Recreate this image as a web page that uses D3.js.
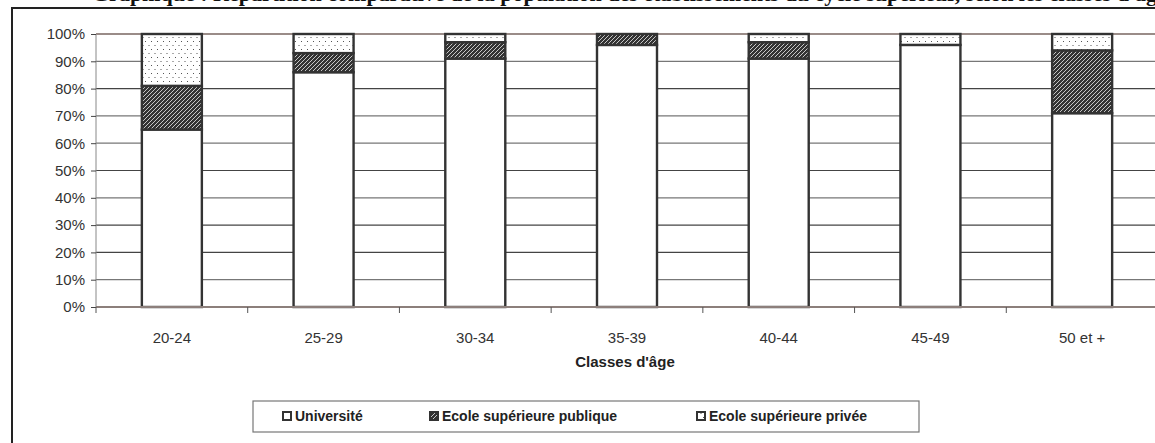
<!DOCTYPE html>
<html>
<head>
<meta charset="utf-8">
<script src="https://cdn.jsdelivr.net/npm/d3@7"></script>
<style>
  html, body { margin: 0; padding: 0; background: #fff; }
  svg { display: block; }
</style>
</head>
<body>
<svg id="chart" width="1155" height="443"></svg>
<script>
// Age classes and the share (%) of each type of institution
const categories = ["20-24", "25-29", "30-34", "35-39", "40-44", "45-49", "50 et +"];
const universite = [65, 86, 91, 96, 91, 96, 71];
const ecolePublique = [16, 7, 6, 4, 6, 0, 23];
const ecolePrivee = [19, 7, 3, 0, 3, 4, 6];
const seriesNames = ["Université", "Ecole supérieure publique", "Ecole supérieure privée"];
const yTicks = [0, 10, 20, 30, 40, 50, 60, 70, 80, 90, 100];
const titleText = "Graphique : Répartition comparative de la population des établissements du cycle supérieur, selon les classes d'âge";
const xTitle = "Classes d'âge";

const svg = d3.select("#chart");
const W = 1155, H = 443;
const plot = { left: 96, right: 1158, top: 34, bottom: 307 };
const barW = 60;
const font = "Liberation Sans, Arial, sans-serif";

// fill patterns
const defs = svg.append("defs");
const hatch = defs.append("pattern").attr("id", "hatch")
  .attr("patternUnits", "userSpaceOnUse").attr("width", 4).attr("height", 4);
hatch.append("rect").attr("width", 4).attr("height", 4).attr("fill", "#333");
hatch.append("path").attr("d", "M-1,1 l2,-2 M0,4 l4,-4 M3,5 l2,-2")
  .attr("stroke", "#d8d8d8").attr("stroke-width", 0.9);

const dots = defs.append("pattern").attr("id", "dots")
  .attr("patternUnits", "userSpaceOnUse").attr("width", 6).attr("height", 8);
dots.append("rect").attr("width", 6).attr("height", 8).attr("fill", "#fff");
dots.append("rect").attr("x", 1).attr("y", 1).attr("width", 1).attr("height", 1).attr("fill", "#555");
dots.append("rect").attr("x", 4).attr("y", 5).attr("width", 2).attr("height", 1).attr("fill", "#aaa");

const fills = ["#fff", "url(#hatch)", "url(#dots)"];

// title (bold serif), running above the frame
svg.append("text").attr("x", 92).attr("y", 1)
  .attr("font-family", "Liberation Serif, Times New Roman, serif")
  .attr("font-weight", "bold").attr("font-size", 22).attr("fill", "#111")
  .text(titleText);

// outer chart frame
svg.append("path").attr("d", `M12,${H + 2} L12,8 L${W + 2},8`)
  .attr("fill", "none").attr("stroke", "#222").attr("stroke-width", 2);

// scales
const x = d3.scaleBand().domain(categories).range([plot.left, plot.right]).padding(0);
const y = d3.scaleLinear().domain([0, 100]).range([plot.bottom, plot.top]);

// gridlines
svg.append("g").selectAll("line").data(yTicks.filter(t => t > 0 && t < 100)).join("line")
  .attr("x1", plot.left).attr("x2", plot.right)
  .attr("y1", d => y(d)).attr("y2", d => y(d))
  .attr("stroke", d => (d === 20 || d === 50 || d === 80 || d === 30) ? "#444" : "#777")
  .attr("stroke-width", 1.2);

// left axis line
svg.append("line").attr("x1", plot.left).attr("x2", plot.left)
  .attr("y1", plot.top).attr("y2", plot.bottom)
  .attr("stroke", "#888").attr("stroke-width", 1);

// top border of the plot area
svg.append("line").attr("x1", plot.left).attr("x2", plot.right)
  .attr("y1", y(100)).attr("y2", y(100))
  .attr("stroke", "#9a8c88").attr("stroke-width", 2);

// y axis
const yAxis = d3.axisLeft(y).tickValues(yTicks).tickFormat(d => d + "%").tickSize(5).tickPadding(6);
const gy = svg.append("g").attr("transform", `translate(${plot.left},0)`).call(yAxis);
gy.select(".domain").remove();
gy.selectAll(".tick line").attr("stroke", "#444");
gy.selectAll(".tick text").attr("font-family", font).attr("font-size", 15).attr("fill", "#333");

// stacked bars
const table = categories.map((c, i) => ({ cat: c, v: [universite[i], ecolePublique[i], ecolePrivee[i]] }));
const bars = svg.append("g");
table.forEach(row => {
  let acc = 0;
  row.v.forEach((val, k) => {
    if (val > 0) {
      bars.append("rect")
        .attr("x", x(row.cat) + (x.bandwidth() - barW) / 2)
        .attr("y", y(acc + val))
        .attr("width", barW)
        .attr("height", y(acc) - y(acc + val))
        .attr("fill", fills[k])
        .attr("stroke", "#333").attr("stroke-width", 2.4);
    }
    acc += val;
  });
});

// x axis
const gx = svg.append("g").attr("transform", `translate(0,${plot.bottom})`);
gx.append("line").attr("x1", plot.left).attr("x2", plot.right)
  .attr("stroke", "#8c7f7b").attr("stroke-width", 2);
const bounds = categories.map(c => x(c)).concat([plot.right]);
gx.selectAll("line.tk").data(bounds).join("line").attr("class", "tk")
  .attr("x1", d => d).attr("x2", d => d).attr("y1", 0).attr("y2", 6)
  .attr("stroke", "#555").attr("stroke-width", 1);
gx.selectAll("text").data(categories).join("text")
  .attr("x", d => x(d) + x.bandwidth() / 2).attr("y", 36)
  .attr("text-anchor", "middle")
  .attr("font-family", font).attr("font-size", 15).attr("fill", "#333")
  .text(d => d);

// x axis title
svg.append("text").attr("x", (plot.left + plot.right) / 2 - 2).attr("y", 367)
  .attr("text-anchor", "middle")
  .attr("font-family", font).attr("font-weight", "bold").attr("font-size", 15).attr("fill", "#222")
  .text(xTitle);

// legend
const lg = svg.append("g");
lg.append("rect").attr("x", 253).attr("y", 401).attr("width", 666).attr("height", 31)
  .attr("fill", "#fff").attr("stroke", "#777").attr("stroke-width", 1.2);
const legendX = [283, 430, 697];
seriesNames.forEach((name, k) => {
  lg.append("rect").attr("x", legendX[k]).attr("y", 412).attr("width", 8).attr("height", 8)
    .attr("fill", fills[k]).attr("stroke", "#333").attr("stroke-width", 2);
  lg.append("text").attr("x", legendX[k] + 12).attr("y", 421)
    .attr("font-family", font).attr("font-weight", "bold").attr("font-size", 14).attr("fill", "#222")
    .text(name);
});
</script>
</body>
</html>
